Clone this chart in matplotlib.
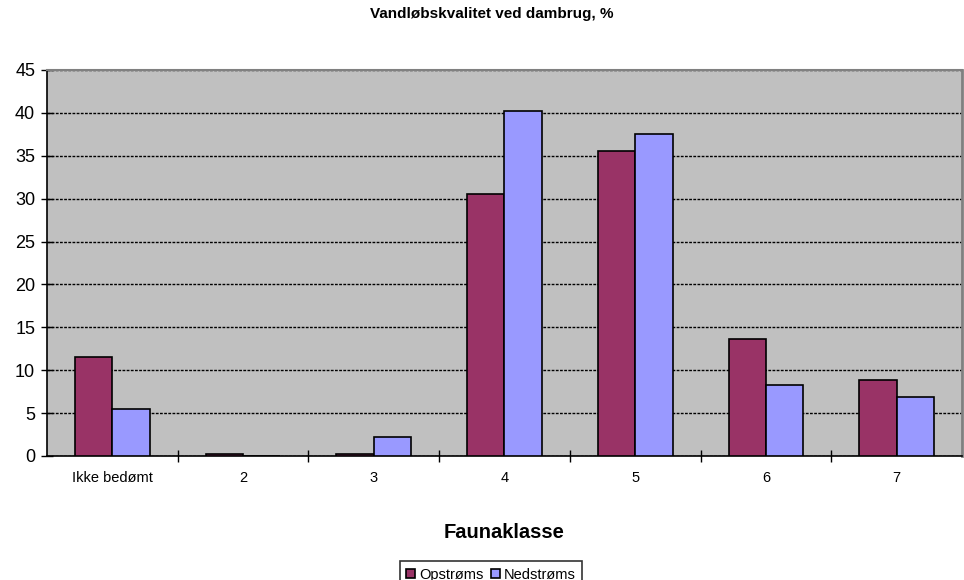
import numpy as np
import matplotlib.pyplot as plt

plt.rcParams['font.family'] = ['Liberation Sans', 'DejaVu Sans']

# data
categories = ['Ikke bedømt', '2', '3', '4', '5', '6', '7']
opstroms = [11.5, 0.2, 0.2, 30.5, 35.6, 13.6, 8.9]
nedstroms = [5.5, 0.0, 2.2, 40.2, 37.5, 8.3, 6.9]
series_names = ['Opstrøms', 'Nedstrøms']

fig = plt.figure(figsize=(9.64, 5.8), dpi=100)
ax = fig.add_axes([47/964, 124/580, 915/964, 386/580])
ax.set_facecolor('#C0C0C0')

x = np.arange(len(categories))
w = 1 / 3.5
ax.bar(x - w/2, opstroms, w, color='#993366', edgecolor='black', lw=1.2,
       label=series_names[0], zorder=3)
ax.bar(x + w/2, nedstroms, w, color='#9999FF', edgecolor='black', lw=1.2,
       label=series_names[1], zorder=3)

ax.set_xlim(-0.5, len(categories) - 0.5)
ax.set_ylim(0, 45)
ax.set_yticks(np.arange(0, 46, 5))
ax.set_xticks(x)
ax.set_xticklabels(categories)
ax.set_xticks(np.arange(0.5, len(categories) - 1, 1), minor=True)
ax.tick_params(axis='x', which='major', length=0, pad=11, labelsize=10.5)
ax.tick_params(axis='x', which='minor', direction='inout', length=9, width=1)
ax.tick_params(axis='y', direction='inout', length=9, width=1, labelsize=13,
               pad=4)

ax.yaxis.grid(True, color='black', linestyle=(0, (2, 1)), lw=1, zorder=1)

ax.spines['left'].set_color('black')
ax.spines['bottom'].set_color('black')
ax.spines['left'].set_linewidth(1.2)
ax.spines['bottom'].set_linewidth(1.2)
ax.spines['top'].set_color('#808080')
ax.spines['right'].set_color('#808080')
ax.spines['top'].set_linewidth(1.5)
ax.spines['right'].set_linewidth(2)

ax.set_xlabel('Faunaklasse', fontsize=14.5, fontweight='bold', labelpad=27)
fig.text(492/964, 1 - 14/580, 'Vandløbskvalitet ved dambrug, %',
         ha='center', va='center', fontsize=11, fontweight='bold')

leg = fig.legend(loc='upper center', bbox_to_anchor=(491/964, 1 - 561/580),
                 ncol=2, fontsize=10.5, frameon=True, fancybox=False,
                 edgecolor='black', handlelength=0.6, handleheight=0.6,
                 handletextpad=0.3, columnspacing=0.5, borderpad=0.45,
                 borderaxespad=0)
leg.get_frame().set_linewidth(1.2)

fig.savefig('out.png', dpi=100)
